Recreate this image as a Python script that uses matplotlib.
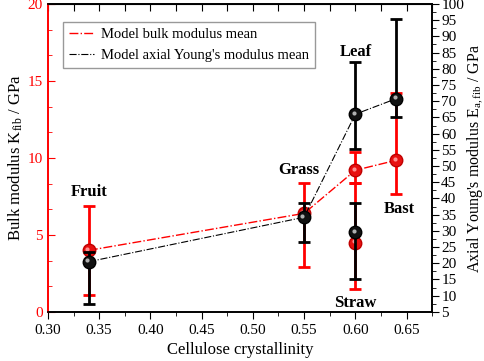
import matplotlib.pyplot as plt
from matplotlib.ticker import MultipleLocator, AutoMinorLocator
from matplotlib.transforms import offset_copy

plt.rcParams['font.family'] = 'Liberation Serif'
plt.rcParams['mathtext.fontset'] = 'custom'
plt.rcParams['mathtext.rm'] = 'Liberation Serif'
plt.rcParams['mathtext.it'] = 'Liberation Serif:italic'

# data
sources = ['Fruit', 'Grass', 'Leaf', 'Straw', 'Bast']
crystallinity = [0.34, 0.55, 0.60, 0.60, 0.64]
bulk_mean = [4.0, 6.4, 9.2, 4.5, 9.85]
bulk_low = [1.1, 2.9, 8.4, 1.5, 7.65]
bulk_high = [6.9, 8.4, 10.4, 8.4, 14.2]
young_mean = [20.5, 34.2, 66.0, 29.5, 70.8]
young_low = [7.3, 26.7, 55.2, 15.2, 65.2]
young_high = [23.6, 38.6, 82.2, 38.7, 95.4]
# points joined by the mean lines (Straw is not joined)
joined = [0, 1, 2, 4]

# where the source names sit (left axis units)
label_pos = {'Fruit': (0.34, 7.8), 'Grass': (0.545, 9.2), 'Leaf': (0.60, 16.9),
             'Straw': (0.60, 0.6), 'Bast': (0.643, 6.7)}

red = '#ff0000'
fig = plt.figure(figsize=(4.84, 3.61), dpi=100)
ax = fig.add_axes([0.099, 0.136, 0.794, 0.853])
ax2 = ax.twinx()

# bulk modulus (left, red)
err_b = [[m - l for m, l in zip(bulk_mean, bulk_low)],
         [h - m for m, h in zip(bulk_mean, bulk_high)]]
ax.errorbar(crystallinity, bulk_mean, yerr=err_b, fmt='none', ecolor=red,
            elinewidth=2, capsize=4, capthick=2, zorder=2)
lb, = ax.plot([crystallinity[i] for i in joined], [bulk_mean[i] for i in joined],
              color=red, ls='-.', lw=1, zorder=3, label='Model bulk modulus mean')
ax.plot(crystallinity, bulk_mean, 'o', ms=9, mfc='#e81010', mec='#c00000', zorder=4)
hl = offset_copy(ax.transData, fig=fig, x=-1.2, y=1.2, units='points')
ax.plot(crystallinity, bulk_mean, 'o', ms=3, mfc='#ff9090', mec='none', zorder=5, transform=hl)

# axial Young's modulus (right, black)
err_y = [[m - l for m, l in zip(young_mean, young_low)],
         [h - m for m, h in zip(young_mean, young_high)]]
ax2.errorbar(crystallinity, young_mean, yerr=err_y, fmt='none', ecolor='black',
             elinewidth=2, capsize=4, capthick=2, zorder=2)
ly, = ax2.plot([crystallinity[i] for i in joined], [young_mean[i] for i in joined],
               color='black', ls='-.', lw=0.8, zorder=3,
               label="Model axial Young's modulus mean")
ax2.plot(crystallinity, young_mean, 'o', ms=9, mfc='#111111', mec='black', zorder=4)
hl2 = offset_copy(ax2.transData, fig=fig, x=-1.2, y=1.2, units='points')
ax2.plot(crystallinity, young_mean, 'o', ms=3, mfc='#b0b0b0', mec='none', zorder=5, transform=hl2)

for name in sources:
    x, y = label_pos[name]
    ax.text(x, y, name, ha='center', va='center', fontsize=12, fontweight='bold')

ax.set_xlim(0.30, 0.675)
ax.set_ylim(0, 20)
ax2.set_ylim(5, 100)

ax.xaxis.set_major_locator(MultipleLocator(0.05))
ax.xaxis.set_minor_locator(MultipleLocator(0.025))
ax.yaxis.set_major_locator(MultipleLocator(5))
ax.yaxis.set_minor_locator(AutoMinorLocator(3))
ax2.yaxis.set_major_locator(MultipleLocator(5))
ax2.yaxis.set_minor_locator(MultipleLocator(2.5))

ax.tick_params(axis='x', which='major', direction='out', length=5, labelsize=11, top=False)
ax.tick_params(axis='x', which='minor', direction='out', length=3, top=False)
ax.tick_params(axis='y', which='major', direction='in', length=5, colors=red, labelsize=11)
ax.tick_params(axis='y', which='minor', direction='in', length=3, colors=red)
ax2.tick_params(axis='y', which='major', direction='out', length=5, labelsize=11, pad=1.5)
ax2.tick_params(axis='y', which='minor', direction='out', length=3)
ax.spines['left'].set_color(red)
ax2.spines['left'].set_color(red)
for s in ax.spines.values():
    s.set_linewidth(1.2)
for s in ax2.spines.values():
    s.set_linewidth(1.2)

# top axis ticks every 0.025 pointing inward
top = ax.secondary_xaxis('top')
top.xaxis.set_major_locator(MultipleLocator(0.025))
top.tick_params(direction='in', length=5, labeltop=False)

ax.set_xlabel('Cellulose crystallinity', fontsize=12)
ax.set_ylabel(r'Bulk modulus K$_{\mathrm{fib}}$ / GPa', fontsize=12, labelpad=2)
ax2.set_ylabel(r"Axial Young's modulus E$_{\mathrm{a,fib}}$ / GPa", fontsize=11.5, labelpad=1)

leg = ax2.legend(handles=[lb, ly], loc='upper left', bbox_to_anchor=(0.04, 0.94),
                 borderaxespad=0, fontsize=10.5, fancybox=False, edgecolor='#999999',
                 handlelength=1.7, handletextpad=0.5, framealpha=1)

fig.savefig('out.png', dpi=100)
